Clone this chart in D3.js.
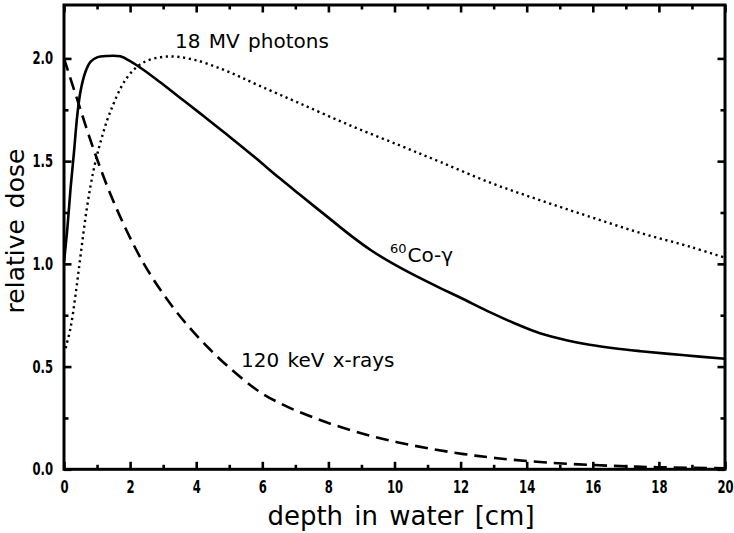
<!DOCTYPE html>
<html>
<head>
<meta charset="utf-8">
<script src="https://cdn.jsdelivr.net/npm/d3@7/dist/d3.min.js"></script>
<style>
  html, body { margin: 0; padding: 0; background: #fff; }
  svg { display: block; }
  .tick-label text { font-family: "DejaVu Sans Condensed", "DejaVu Sans", sans-serif; font-weight: bold; font-size: 17px; fill: #000; }
  .title { font-family: "DejaVu Sans", sans-serif; fill: #000; }
  .note { font-family: "DejaVu Sans", sans-serif; font-size: 20px; fill: #000; }
</style>
</head>
<body>
<svg id="chart" width="734" height="533"></svg>
<script>
// Depth–dose curves in water for three beam qualities.
const depthCo = [0, 0.1, 0.2, 0.3, 0.4, 0.5, 0.65, 0.8, 1.0, 1.3, 1.7, 2.0, 2.4, 2.9, 3.5, 4.1, 4.4, 5.0, 5.8, 6.5, 7.15, 8.0, 8.7, 9.3, 9.9, 10.6, 11.4, 12.0, 12.9, 13.7, 14.4, 15.2, 15.9, 16.7, 17.45, 18.7, 20.0];
const doseCo  = [1.01, 1.17, 1.37, 1.54, 1.72, 1.84, 1.935, 1.983, 2.005, 2.012, 2.01, 1.987, 1.945, 1.885, 1.81, 1.735, 1.697, 1.62, 1.515, 1.42, 1.335, 1.225, 1.135, 1.065, 1.006, 0.945, 0.881, 0.835, 0.764, 0.706, 0.662, 0.628, 0.606, 0.588, 0.575, 0.556, 0.538];

const depthMV = [0.05, 0.2, 0.35, 0.5, 0.7, 0.9, 1.1, 1.4, 1.9, 2.4, 3.1, 3.9, 4.9, 5.9, 7.15, 8.67, 10.18, 11.4, 12.9, 14.4, 15.9, 17.45, 18.97, 20.0];
const doseMV  = [0.59, 0.69, 0.85, 1.04, 1.28, 1.46, 1.59, 1.74, 1.905, 1.98, 2.009, 1.995, 1.94, 1.868, 1.78, 1.673, 1.575, 1.495, 1.395, 1.31, 1.23, 1.15, 1.082, 1.03];

const depthKeV = [0, 0.38, 0.89, 1.39, 1.9, 2.4, 2.91, 3.41, 3.92, 4.42, 4.93, 5.94, 6.75, 7.45, 8.06, 9.07, 10.08, 11.09, 12.1, 13.11, 14.6, 16.6, 18.0, 20.0];
const doseKeV  = [2.0, 1.81, 1.56, 1.345, 1.16, 1.005, 0.875, 0.765, 0.668, 0.583, 0.505, 0.375, 0.305, 0.258, 0.222, 0.172, 0.132, 0.1, 0.074, 0.054, 0.033, 0.017, 0.01, 0.005];

const xMajorTicks = [0, 2, 4, 6, 8, 10, 12, 14, 16, 18, 20];
const xMinorTicks = [1, 3, 5, 7, 9, 11, 13, 15, 17, 19];
const yMajorTicks = [0.0, 0.5, 1.0, 1.5, 2.0];
const yMinorTicks = [0.25, 0.75, 1.25, 1.75];

const svg = d3.select("#chart");
const plotLeft = 64, plotRight = 725, plotTop = 5, plotBottom = 469.3;
const narrow = 0.76; // horizontal squeeze of the numeric tick labels

const x = d3.scaleLinear().domain([0, 20]).range([plotLeft, plotRight]);
const y = d3.scaleLinear().domain([0, 2.26]).range([plotBottom, plotTop]);

const fmt = d3.format(".1f");

function styleTicks(g, w) {
  g.select(".domain").remove();
  g.selectAll(".tick line").attr("stroke", "#000").attr("stroke-width", w);
}

// bottom axis: labelled majors and unlabelled minors, ticks pointing inward
svg.append("g").attr("class", "tick-label")
  .attr("transform", `translate(0,${plotBottom})`)
  .call(d3.axisBottom(x).tickValues(xMajorTicks).tickFormat(d3.format("d"))
        .tickSizeInner(-7.5).tickSizeOuter(0).tickPadding(11.5))
  .call(g => styleTicks(g, 2.6))
  .call(g => g.selectAll(".tick text").attr("transform", `scale(${narrow},1)`));
svg.append("g")
  .attr("transform", `translate(0,${plotBottom})`)
  .call(d3.axisBottom(x).tickValues(xMinorTicks).tickFormat("")
        .tickSizeInner(-4.5).tickSizeOuter(0))
  .call(g => styleTicks(g, 2.6));

// top axis
svg.append("g")
  .attr("transform", `translate(0,${plotTop})`)
  .call(d3.axisTop(x).tickValues(xMajorTicks).tickFormat("")
        .tickSizeInner(-7.5).tickSizeOuter(0))
  .call(g => styleTicks(g, 2.6));
svg.append("g")
  .attr("transform", `translate(0,${plotTop})`)
  .call(d3.axisTop(x).tickValues(xMinorTicks).tickFormat("")
        .tickSizeInner(-4.5).tickSizeOuter(0))
  .call(g => styleTicks(g, 2.6));

// left axis
svg.append("g").attr("class", "tick-label")
  .attr("transform", `translate(${plotLeft},0)`)
  .call(d3.axisLeft(y).tickValues(yMajorTicks).tickFormat(fmt)
        .tickSizeInner(-7.5).tickSizeOuter(0).tickPadding(11))
  .call(g => styleTicks(g, 2.6))
  .call(g => g.selectAll(".tick text")
    .attr("x", -11 / narrow)
    .attr("transform", `scale(${narrow},1)`));
svg.append("g")
  .attr("transform", `translate(${plotLeft},0)`)
  .call(d3.axisLeft(y).tickValues(yMinorTicks).tickFormat("")
        .tickSizeInner(-4.5).tickSizeOuter(0))
  .call(g => styleTicks(g, 2.6));

// right axis
svg.append("g")
  .attr("transform", `translate(${plotRight},0)`)
  .call(d3.axisRight(y).tickValues(yMajorTicks).tickFormat("")
        .tickSizeInner(-7.5).tickSizeOuter(0))
  .call(g => styleTicks(g, 2.6));
svg.append("g")
  .attr("transform", `translate(${plotRight},0)`)
  .call(d3.axisRight(y).tickValues(yMinorTicks).tickFormat("")
        .tickSizeInner(-4.5).tickSizeOuter(0))
  .call(g => styleTicks(g, 2.6));

// frame
svg.append("rect")
  .attr("x", plotLeft).attr("y", plotTop)
  .attr("width", plotRight - plotLeft).attr("height", plotBottom - plotTop)
  .attr("fill", "none").attr("stroke", "#000").attr("stroke-width", 3);

// curves
const line = d3.line().x(d => x(d[0])).y(d => y(d[1])).curve(d3.curveCatmullRom.alpha(0.5));
const curves = [
  { xs: depthCo,  ys: doseCo,  width: 2.6, dash: null },
  { xs: depthMV,  ys: doseMV,  width: 2.4, dash: "2.2,3.6" },
  { xs: depthKeV, ys: doseKeV, width: 2.6, dash: "13,7" }
];
curves.forEach(c => {
  svg.append("path")
    .datum(c.xs.map((d, i) => [d, c.ys[i]]))
    .attr("d", line)
    .attr("fill", "none")
    .attr("stroke", "#000")
    .attr("stroke-width", c.width)
    .attr("stroke-dasharray", c.dash);
});

// annotations
svg.append("text").attr("class", "note")
  .attr("x", 175).attr("y", 48)
  .attr("word-spacing", 2)
  .text("18 MV photons");

svg.append("text").attr("class", "note")
  .attr("x", 241).attr("y", 367)
  .attr("word-spacing", 2)
  .text("120 keV x-rays");

const co = svg.append("text").attr("class", "note").attr("x", 390).attr("y", 262);
co.append("tspan").attr("font-size", 13).attr("dy", -9).text("60");
co.append("tspan").attr("dy", 9).attr("dx", 1).text("Co-γ");

// axis titles
svg.append("text").attr("class", "title")
  .attr("x", 401).attr("y", 525)
  .attr("text-anchor", "middle")
  .attr("font-size", 26)
  .attr("word-spacing", 3)
  .text("depth in water [cm]");

svg.append("text").attr("class", "title")
  .attr("transform", "translate(23.5,231) rotate(-90)")
  .attr("text-anchor", "middle")
  .attr("font-size", 25)
  .attr("word-spacing", 3)
  .text("relative dose");
</script>
</body>
</html>
